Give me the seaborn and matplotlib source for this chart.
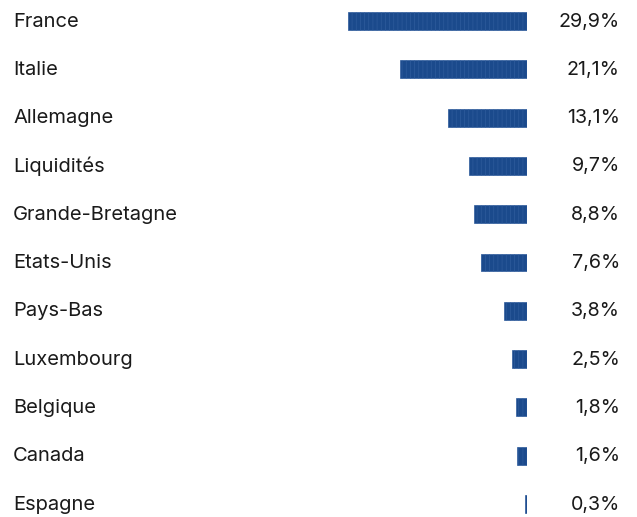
import matplotlib
matplotlib.use("Agg")
import matplotlib.pyplot as plt
import matplotlib.transforms as mtransforms
import seaborn as sns
import pandas as pd

categories = ["France", "Italie", "Allemagne", "Liquidités", "Grande-Bretagne",
              "Etats-Unis", "Pays-Bas", "Luxembourg", "Belgique", "Canada", "Espagne"]
values = [29.9, 21.1, 13.1, 9.7, 8.8, 7.6, 3.8, 2.5, 1.8, 1.6, 0.3]

df = pd.DataFrame({"pays": categories, "poids": values})

sns.set_theme(style="white")
plt.rcParams["font.family"] = ["Inter", "DejaVu Sans"]
plt.rcParams["hatch.linewidth"] = 0.5
plt.rcParams["hatch.color"] = "#2a5898"

fig = plt.figure(figsize=(6.37, 5.17), dpi=100)
ax = fig.add_axes([335 / 637, 0.9 / 517, 192 / 637, 514.4 / 517])

bar_color = "#1b4a8c"
sns.barplot(data=df, y="pays", x="poids", orient="h", color=bar_color,
            saturation=1, width=0.37, ax=ax)
for p in ax.patches:
    p.set_hatch("||||")
    p.set_edgecolor("#2f5c9c")
    p.set_linewidth(0.5)

ax.set_xlim(32, 0)
ax.set_ylim(10.25, -0.4)
ax.axis("off")

trans = mtransforms.blended_transform_factory(fig.transFigure, ax.transData)
for i, (c, v) in enumerate(zip(categories, values)):
    ax.text(13 / 637, i + 0.01, c, transform=trans, ha="left", va="center",
            fontsize=14.5, color="#1a1a1a")
    ax.text(620 / 637, i + 0.01, f"{v:.1f}".replace(".", ",") + "%", transform=trans,
            ha="right", va="center", fontsize=14.2, color="#1a1a1a")

fig.savefig("out.png", dpi=100)
